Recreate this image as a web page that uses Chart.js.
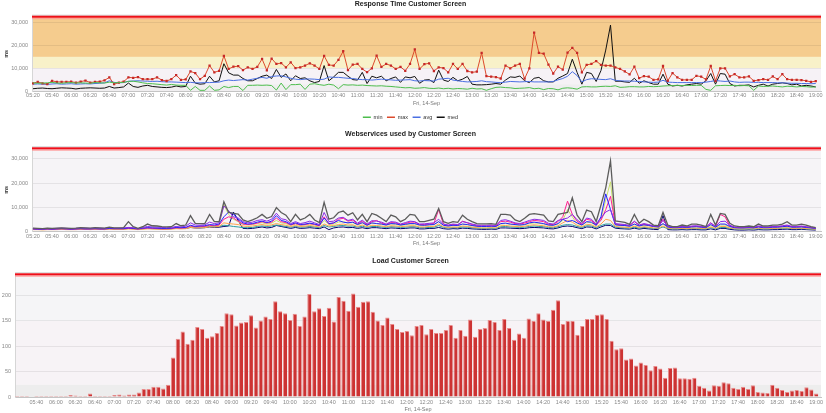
<!DOCTYPE html>
<html><head><meta charset="utf-8">
<script src="https://cdn.jsdelivr.net/npm/chart.js@4.4.1/dist/chart.umd.min.js"></script>
<style>
html,body{margin:0;padding:0;background:#fff;width:826px;height:413px;overflow:hidden}
canvas{position:absolute;left:0}
</style></head><body>
<canvas id="c1" width="826" height="130" style="top:0"></canvas>
<canvas id="c2" width="826" height="125" style="top:125px"></canvas>
<canvas id="c3" width="826" height="163" style="top:250px"></canvas>
<script>
// 20-minute tick labels (data points every 5 minutes from 05:20 to 19:00)
const TICK_LABELS = ["05:20","05:40","06:00","06:20","06:40","07:00","07:20","07:40","08:00","08:20","08:40","09:00","09:20","09:40","10:00","10:20","10:40","11:00","11:20","11:40","12:00","12:20","12:40","13:00","13:20","13:40","14:00","14:20","14:40","15:00","15:20","15:40","16:00","16:20","16:40","17:00","17:20","17:40","18:00","18:20","18:40","19:00"];
const X_TITLE = "Fri, 14-Sep";
const RT_TICKS = [0,10000,20000,30000];
const WS_TICKS = [0,10000,20000,30000];
const LOAD_TICKS = [0,50,100,150,200];

const MIN_MS = [3600,3400,3500,3600,3800,3500,3400,3600,3700,3500,
3600,3500,3400,3700,3600,3500,3900,3600,3700,3800,
4200,4300,4000,3600,3300,3200,3000,2800,2600,2900,
2600,2500,2500,300,2000,300,300,2200,300,500,
2000,1500,2000,2000,200,2500,2500,2600,2500,2600,
2400,400,3500,600,2800,2800,3000,700,3000,3200,
2800,2500,3000,2600,1000,2800,2600,2700,2500,2600,
2400,2300,2200,2300,2100,2000,1800,1600,1400,1500,
1200,1300,1500,1200,1100,1300,1000,1200,900,1100,
1000,800,1200,900,1000,300,1000,1600,1700,1500,
1400,1100,1200,1300,1500,1000,1200,600,1100,1000,
500,1200,1400,1200,800,1800,1900,1800,1800,2000,
2100,2000,2300,1600,1700,1900,1900,1800,1800,2000,
1900,2000,2200,2300,2400,2500,2400,2500,2400,2500,
2500,700,300,2300,2400,2500,2400,2500,2300,2400,
2300,300,2200,2000,2100,2200,2000,1800,2100,2000,
1800,2000,1900,1700,1800];
const MAX_MS = [3400,4000,3400,3000,4500,4000,4000,4000,4100,3700,
4100,4600,3700,4000,4100,4700,6000,3000,3700,4100,
6000,5800,6100,5200,5200,5200,6000,4800,4400,5200,
7000,4900,5100,8600,7900,5200,6700,11200,8200,8900,
15500,9700,10700,10900,9200,10400,9700,10600,14100,9100,
14300,11900,12300,10400,12600,10100,10400,11200,12200,11200,
9700,15500,11500,11200,13700,17500,9200,11600,11900,9700,
8300,10000,15600,10600,11900,11200,9700,10600,8900,11900,
18300,9700,11800,12200,8800,10400,10100,8200,11900,9700,
11900,8800,8200,8500,16800,6500,6300,6100,5500,11200,
10000,11200,11900,5400,10000,25700,16800,16400,11600,7700,
10700,9400,16900,19000,16800,8200,11500,11900,13200,11500,
11200,11200,10400,9700,8600,7300,10700,5700,6500,6300,
4900,5100,11000,4500,7900,6000,4900,4900,4900,6700,
6300,5100,11000,4500,10000,10000,6400,7400,6000,6000,
6400,4500,4800,5200,4900,6400,5200,7400,5200,4900,
4900,4800,4500,4000,4300];
const AVG_MS = [3000,3100,3000,2900,3100,3200,3000,3100,3200,3000,
3100,3200,3100,3300,3400,3600,4500,3800,3600,3700,
4300,4400,4500,4400,4300,4200,4300,4100,4000,4000,
3900,3800,3700,3800,3600,3600,3700,3700,3800,3900,
4500,4800,4600,4800,5000,4800,5200,5600,6000,5600,
6400,6600,6700,6200,5600,5200,5000,5200,5300,5200,
5000,5200,6200,6000,6000,5800,5600,5500,5200,5000,
5000,4800,5000,5200,5000,4900,4700,4800,4900,5000,
4500,4400,4600,4500,4400,5200,5400,5600,4800,4500,
4200,4000,4100,4200,4500,4100,4000,3800,3700,3900,
4200,4100,4000,4100,4200,4000,4000,4000,4000,4200,
4900,5500,6500,8500,6800,4000,5000,5400,5300,5100,
5000,5400,4700,4500,4400,4400,4300,4200,4000,3900,
3800,3900,4700,3900,3800,3700,3700,3700,3700,3700,
3700,3900,4200,4600,4400,4200,4400,4000,3800,3900,
3900,3800,3800,3700,3700,3700,3600,3600,3500,3400,
3400,3300,3300,3200,3300];
const MED_MS = [1000,1200,1300,1100,1000,1200,1400,1300,1200,900,
1200,1300,1400,1300,1200,1300,2000,1300,1500,1800,
3500,2000,1600,2200,2500,2000,1800,1600,1500,1700,
2200,1800,2000,6500,3500,3000,3200,6500,4000,4500,
12000,8000,7000,7000,5500,4500,4500,5500,6500,7000,
5500,9500,6000,7500,4500,6700,5500,5800,4500,3700,
4200,11200,4500,6200,8200,8200,6500,5000,4800,8200,
3300,6500,5800,6500,4500,5500,6200,3800,6200,5800,
6400,3400,4800,5000,3700,9200,4800,4200,6000,4500,
5200,6400,3000,2700,2700,2800,3000,3300,3000,4800,
6200,6000,6600,4500,3700,5600,6000,4500,4000,4000,
5600,6600,7700,14000,8200,3000,8200,7700,4200,9000,
18000,29000,4300,4300,4000,3800,5600,3400,4500,3700,
3000,3000,7400,3000,2200,2500,2200,2700,3000,3300,
3000,4500,7700,3000,7700,7400,3300,2200,2500,2500,
2700,1800,2500,3000,2200,3000,3300,3600,3300,2700,
3000,2200,2500,2200,1800];

// Webservices (unnamed series)
const WS_GRAY = [1300,1200,1100,1300,1200,1300,1400,1300,1200,1300,
1500,1400,1300,1500,1400,1300,1700,1400,1400,1500,
4000,1900,1200,1900,3000,2300,2200,1900,1800,1900,
3200,2300,2600,6500,3300,3200,3200,7000,4000,4000,
12200,7800,7400,7100,4700,4000,4700,5600,7000,5400,
6100,9800,7800,6700,4000,7000,4700,5500,7000,4700,
3600,12000,5000,5600,7800,8400,6700,7700,4700,7000,
4000,7400,6700,5400,4000,6700,6000,4000,5000,7000,
6700,4000,4000,4500,5000,9500,4000,3300,4000,3700,
6700,5000,4000,3200,3100,3100,3200,2900,7000,7000,
6700,4700,4000,5400,7000,7300,7000,6700,4300,4000,
7000,7400,7800,13900,6700,4000,8800,8100,4000,10900,
18000,29200,4300,4000,3700,2900,7000,3300,5000,4000,
2600,2300,7800,2600,1900,1900,2600,2200,3000,3000,
2600,1900,7000,2600,7400,7000,3300,2200,1900,1900,
2200,1900,3000,2200,2200,2600,2600,3000,4000,2600,
2600,3000,2600,1900,1500];
const WS_PURPLE = [1200,1100,1000,1200,1100,1200,1300,1200,1100,1200,
1300,1300,1200,1300,1300,1200,1500,1300,1300,1400,
1600,1500,1100,1600,2000,1800,1700,1600,1500,1600,
2000,1800,2100,3500,2600,2500,2700,3800,3200,3500,
10500,8500,6000,5500,4000,3500,3800,4500,4800,4200,
5000,7500,5200,4800,3200,4000,3200,3600,4200,3500,
2800,7800,4000,4200,5500,5800,4500,5000,3400,4600,
3000,4400,4200,3800,3000,4000,3800,3000,3600,4200,
4000,3000,3100,3300,3500,5000,3000,2600,3000,2800,
4000,3600,3000,2600,2500,2500,2600,2400,4500,4800,
4200,3500,3200,3800,4500,5000,4800,4500,3300,3000,
4500,5000,5500,7000,4800,3200,5500,5000,3000,5500,
8000,9000,3200,3000,2800,2400,4200,2600,3200,2800,
2200,2000,4500,2100,1700,1600,2000,1800,2200,2300,
2000,1700,3500,2000,4000,4200,2500,1800,1600,1600,
1800,1600,2200,1800,1700,2000,2000,2300,2600,2000,
2000,2200,1900,1600,1300];
const WS_BLUE = [1000,900,900,1000,900,1000,1100,1000,900,1000,
1100,1000,1000,1100,1000,1000,1200,1100,1100,1100,
1400,1200,1000,1300,1500,1400,1300,1200,1200,1300,
1600,1500,1600,2500,2000,2200,2300,2800,2600,3000,
6000,8000,7200,5000,3500,3000,3200,3800,4200,3600,
4200,6500,4500,4000,2800,3500,2800,3000,3400,3000,
2500,5500,3200,3500,4500,3800,3500,3800,2800,3600,
2500,3500,3200,3000,2600,3200,3100,2600,2900,3200,
3200,2600,2500,2700,2800,4000,2500,2200,2500,2400,
3000,2800,2400,2100,2000,2000,2100,2000,3200,3400,
3000,2800,2600,2800,3500,3800,3500,3200,2600,2500,
3200,5000,4000,4500,3500,2600,4000,3800,2500,6000,
15500,9000,2700,2500,2400,2100,3000,2200,2700,2400,
2000,1800,3200,1800,1500,1500,1700,1600,1800,1900,
1700,1500,2800,1700,3000,3000,2000,1500,1400,1400,
1500,1400,1800,1500,1500,1700,1700,1900,2100,1700,
1700,1800,1600,1400,1200];
const WS_MAGENTA = [900,800,800,900,800,900,1000,900,800,900,
1000,900,900,1000,900,900,1100,1000,1000,1000,
1200,1100,900,1100,1300,1200,1100,1000,1000,1100,
1400,1300,1400,2200,1800,1900,2000,2500,2300,2600,
5000,6000,5500,4200,3000,2800,3000,3400,4000,3400,
3800,5500,4000,3600,2600,3200,2600,2800,3200,2800,
2300,6000,3000,3400,5000,5400,4200,4600,3000,4200,
2700,4000,4500,3400,2800,3600,3500,2800,3200,3800,
3800,2800,2800,3000,3200,9000,3000,2400,2800,2600,
4200,3500,2800,2300,2200,2200,2300,2200,4000,4200,
3800,3200,3000,3400,4000,4500,4300,4000,2900,2800,
4000,6000,12500,7000,4200,2800,5000,4500,2600,4500,
9000,14500,3000,2700,2600,2300,4000,2400,3000,2600,
2100,1900,5000,2000,1600,1600,1900,1700,2000,2100,
1900,1600,3500,1900,7000,6000,2200,1600,1500,1500,
1700,1500,2000,1700,1600,1900,1900,2100,2400,1900,
1900,2000,1800,1500,1200];
const WS_LIME = [800,800,700,800,800,800,900,800,800,800,
900,900,800,900,900,800,1000,900,900,900,
1100,1000,800,1000,1200,1100,1000,1000,900,1000,
1300,1200,1300,2000,1700,1800,1900,2400,2200,2500,
11000,7000,5000,4000,3000,2600,2800,3200,3600,3000,
3400,4500,3500,3200,2400,3000,2400,2600,3000,2600,
2200,4500,2800,3000,3800,4000,3400,3600,2600,3400,
2400,3300,3200,2900,2500,3000,2900,2400,2700,3000,
3000,2400,2400,2600,2700,4000,2500,2100,2400,2300,
2900,2700,2300,2000,1900,1900,2000,1900,3000,3200,
2900,2600,2500,2700,3200,3500,3300,3000,2500,2400,
3000,4500,9000,6000,3200,2500,3800,3500,2400,5000,
13000,20500,2600,2400,2300,2000,2800,2100,2500,2300,
1900,1700,3000,1700,1400,1400,1600,1500,1700,1800,
1600,1400,2400,1600,2600,2600,1800,1400,1300,1300,
1400,1300,1700,1400,1400,1600,1600,1800,2000,1600,
1600,1700,1500,1300,1100];
const WS_ORANGE = [700,700,600,700,700,700,800,700,700,700,
800,800,700,800,800,700,900,800,800,800,
1000,900,700,900,1000,1000,900,900,800,900,
1100,1000,1100,1600,1400,1500,1500,1900,1800,2000,
3500,3200,3000,2800,2200,2000,2200,2500,2800,2400,
2700,3200,2800,2500,2000,2400,2000,2100,2400,2100,
1800,3000,2200,2400,2800,3000,2600,2700,2000,2600,
1900,2500,2400,2200,1900,2300,2200,1900,2100,2300,
2300,1800,1800,2000,2000,3000,1900,1600,1800,1700,
2200,2000,1700,1500,1400,1400,1500,1400,2300,2400,
2200,2000,1900,2100,2500,2700,2500,2300,1900,1800,
2300,3500,4500,3800,2500,1900,2900,2700,1800,3000,
5000,4500,2000,1800,1700,1500,2100,1600,1900,1700,
1400,1300,2200,1300,1100,1100,1200,1100,1300,1300,
1200,1100,1800,1200,2000,2000,1400,1100,1000,1000,
1100,1000,1300,1100,1100,1200,1200,1400,1500,1200,
1200,1300,1100,1000,900];
const WS_TEAL = [1100,1000,1000,1100,1000,1100,1100,1100,1000,1100,
1200,1100,1100,1200,1100,1100,1200,1100,1100,1200,
1300,1200,1100,1200,1400,1300,1300,1200,1200,1200,
1400,1300,1400,1800,1600,1600,1700,2000,1900,2000,
2500,2300,2000,1800,1500,1500,1600,2000,2200,2000,
2200,2600,2300,2000,1700,2000,1700,1800,2000,1800,
1500,2400,1800,2000,2300,2400,2100,2200,1700,2100,
1600,2000,2000,1800,1600,1900,1800,1600,1700,1900,
1900,1500,1500,1600,1700,2400,1600,1400,1500,1500,
1800,1700,1500,1300,1200,1200,1300,1200,1900,2000,
1800,1700,1600,1700,2000,2200,2000,1900,1600,1500,
1900,2500,2800,2600,2000,1600,2300,2200,1500,2400,
3000,3000,1700,1500,1400,1300,1700,1300,1600,1400,
1200,1100,1800,1100,1000,1000,1100,1000,1100,1100,
1000,1000,1500,1000,1600,1600,1200,1000,900,900,
1000,900,1100,1000,1000,1100,1100,1200,1300,1100,
1100,1100,1000,900,800];
const WS_NAVY = [900,900,800,900,900,900,1000,900,900,900,
1000,900,900,1000,1000,900,1100,1000,1000,1000,
1200,1100,900,1100,1200,1100,1100,1000,1000,1100,
1300,1200,1200,1600,1400,1400,1500,1800,1600,1700,
2000,2200,8000,4500,1200,1100,1200,1500,1800,1400,
1600,2400,2000,1600,1200,1600,1200,1300,1500,1300,
1100,1800,700,1400,1700,1800,1500,1600,1200,1500,
1100,1500,1500,1300,1100,1400,1300,1100,1200,1400,
1400,1000,1000,1200,1200,1600,1100,900,1100,1000,
1300,1200,1000,900,800,800,900,800,1400,1400,
1300,1200,1100,1200,1500,1600,1500,1400,1100,1000,
1400,2000,2200,2000,1500,1100,1800,1700,1000,1800,
2500,2400,1300,1100,1000,900,1300,900,1200,1000,
800,700,6500,700,600,600,700,600,700,700,
600,600,1000,600,1200,1200,800,600,500,500,
600,500,700,600,600,700,700,800,900,700,
700,800,700,600,500];

// Load (requests per 5 minutes)
const LOAD = [2,2,2,1,2,2,2,2,2,2,
2,4,3,2,2,7,2,2,2,2,
4,5,3,5,5,9,16,16,20,20,
17,24,78,115,129,105,113,138,134,117,
120,126,140,165,163,141,147,148,161,137,
151,159,154,189,169,165,152,164,140,159,
203,169,175,160,176,149,197,190,170,204,
178,188,189,168,151,142,157,144,134,128,
130,122,140,142,124,134,126,126,132,142,
117,132,121,153,119,134,136,152,148,132,
154,136,113,125,117,155,150,165,153,150,
172,191,144,150,150,123,140,154,154,162,
163,154,111,94,96,74,76,62,68,63,
53,61,56,38,57,58,37,37,36,38,
22,18,13,23,22,29,27,18,16,20,
16,23,10,9,8,24,18,14,10,13,
14,12,19,15,7];

Chart.defaults.font.family = "'Liberation Sans', Arial, sans-serif";
Chart.defaults.animation = false;

const pts = arr => arr.map((v, i) => ({x: i, y: v}));
const fmt = v => Number(v).toLocaleString('en-US');

const deco = {
  id: 'deco',
  beforeDraw(chart, args, opts) {
    const {ctx, chartArea: a, scales: {y}} = chart;
    ctx.save();
    (opts.bands || []).forEach(b => {
      const t = Math.max(a.top, y.getPixelForValue(b.to));
      const bt = Math.min(a.bottom, y.getPixelForValue(b.from));
      ctx.fillStyle = b.color;
      ctx.fillRect(a.left, t, a.right - a.left, bt - t);
    });
    ctx.restore();
  },
  afterDraw(chart) {
    const {ctx, chartArea: a} = chart;
    const w = a.right - a.left;
    ctx.save();
    ctx.fillStyle = 'rgba(190,190,190,0.7)';
    ctx.fillRect(a.left, a.top - 2, w, 1);
    ctx.fillStyle = 'rgba(255,150,150,0.8)';
    ctx.fillRect(a.left, a.top + 1, w, 1.5);
    ctx.fillStyle = '#ee0f1a';
    ctx.fillRect(a.left, a.top - 1, w, 2);
    ctx.restore();
  }
};

function xScale(min, max, height, pad, titlePad, skipFirst) {
  return {
    type: 'linear', min, max, offset: false,
    grid: {display: false, drawTicks: false},
    border: {display: true, color: '#c4c4c4'},
    afterBuildTicks: s => {
      s.ticks = TICK_LABELS.map((_, k) => ({value: k * 4})).slice(skipFirst ? 1 : 0);
    },
    afterFit: s => { s.height = height; },
    ticks: {autoSkip: false, maxRotation: 0, padding: pad, font: {size: 5.5}, color: '#888',
      callback: v => TICK_LABELS[Math.round(v / 4)]},
    title: {display: true, text: X_TITLE, font: {size: 5.5}, color: '#777', padding: {top: 0, bottom: titlePad}}
  };
}
function yScale(max, tickVals, width, withTitle) {
  return {
    min: 0, max,
    afterBuildTicks: s => { s.ticks = tickVals.map(v => ({value: v})); },
    afterFit: s => { s.width = width; },
    grid: {color: 'rgba(0,0,0,0.07)', drawTicks: false},
    border: {display: true, color: '#d6d6d6'},
    ticks: {padding: 4, font: {size: 5.5}, color: '#888', callback: v => fmt(v)},
    title: {display: withTitle, text: 'ms', font: {size: 5.5, weight: 'bold'}, color: '#333', padding: {top: 3.4, bottom: 0}}
  };
}
const line = (label, data, color, w) => ({label, data: pts(data), borderColor: color, backgroundColor: color,
  borderWidth: w, pointRadius: 0, tension: 0});

// Chart 1: Response Time
new Chart(document.getElementById('c1'), {
  type: 'line',
  data: {datasets: [
    line('min', MIN_MS, '#4dbd4d', 1),
    Object.assign(line('max', MAX_MS, '#dc4a2c', 1), {pointRadius: 1.6, pointStyle: 'rect',
      pointBackgroundColor: '#c62828', pointBorderWidth: 0}),
    line('avg', AVG_MS, '#4a6fe2', 1),
    line('med', MED_MS, '#111111', 1)
  ]},
  options: {
    responsive: false, devicePixelRatio: 1,
    layout: {padding: {left: 0, right: 5, top: 0, bottom: 0}},
    plugins: {
      title: {display: true, text: 'Response Time Customer Screen', font: {size: 7, weight: 'bold'}, color: '#222', padding: {top: 0, bottom: 8.3}},
      legend: {display: true, position: 'bottom', labels: {usePointStyle: true, pointStyleWidth: 8, boxHeight: 5.5,
        font: {size: 5.5}, color: '#333', padding: 4.5,
        generateLabels: c => Chart.defaults.plugins.legend.labels.generateLabels(c).map(l => Object.assign(l, {pointStyle: 'line', lineWidth: 1.5}))}},
      tooltip: {enabled: false},
      deco: {bands: [
        {from: 15000, to: 40000, color: '#f5cc8e'},
        {from: 10000, to: 15000, color: '#f8f1c9'},
        {from: 3000, to: 10000, color: '#f6f2f6'},
        {from: 0, to: 3000, color: '#f0eef0'}
      ]}
    },
    scales: {x: xScale(-0.2, 165.1, 19, 1, 3.4, false), y: yScale(32700, RT_TICKS, 32, true)}
  },
  plugins: [deco]
});

// Chart 2: Webservices
new Chart(document.getElementById('c2'), {
  type: 'line',
  data: {datasets: [
    line('ws-a', WS_GRAY, '#5c5c5c', 1.3),
    line('ws-b', WS_PURPLE, '#8a2be2', 1),
    line('ws-c', WS_BLUE, '#2323ff', 1),
    line('ws-d', WS_MAGENTA, '#ff1f8f', 1),
    line('ws-e', WS_LIME, '#c8e06a', 1),
    line('ws-f', WS_ORANGE, '#ffa54a', 1),
    line('ws-g', WS_TEAL, '#2a9d9d', 1),
    line('ws-h', WS_NAVY, '#000070', 1)
  ]},
  options: {
    responsive: false, devicePixelRatio: 1,
    layout: {padding: {left: 0, right: 5, top: 0, bottom: 0}},
    plugins: {
      title: {display: true, text: 'Webservices used by Customer Screen', font: {size: 7, weight: 'bold'}, color: '#222', padding: {top: 4.8, bottom: 10.1}},
      legend: {display: false},
      tooltip: {enabled: false},
      deco: {bands: [{from: 0, to: 40000, color: '#f6f4f7'}]}
    },
    scales: {x: xScale(-0.2, 165.1, 18.7, 2, 3.4, false), y: yScale(34400, WS_TICKS, 32, true)}
  },
  plugins: [deco]
});

// Chart 3: Load
new Chart(document.getElementById('c3'), {
  type: 'bar',
  data: {datasets: [{label: 'load', data: pts(LOAD), backgroundColor: '#cd3333',
    borderColor: '#e98c8c', borderWidth: {left: 1, top: 1, right: 0, bottom: 0}, borderSkipped: false,
    categoryPercentage: 0.9, barPercentage: 0.95}]},
  options: {
    responsive: false, devicePixelRatio: 1,
    layout: {padding: {left: 0, right: 5, top: 0, bottom: 0}},
    plugins: {
      title: {display: true, text: 'Load Customer Screen', font: {size: 7, weight: 'bold'}, color: '#222', padding: {top: 6.5, bottom: 9.4}},
      legend: {display: false},
      tooltip: {enabled: false},
      deco: {bands: [
        {from: 150, to: 300, color: '#f5f5f7'},
        {from: 24, to: 150, color: '#f7f3f6'},
        {from: 0, to: 24, color: '#ededed'}
      ]}
    },
    scales: {x: xScale(-0.4, 165, 16, 2, 0, true), y: yScale(242, LOAD_TICKS, 15, false)}
  },
  plugins: [deco]
});
</script>
</body></html>
